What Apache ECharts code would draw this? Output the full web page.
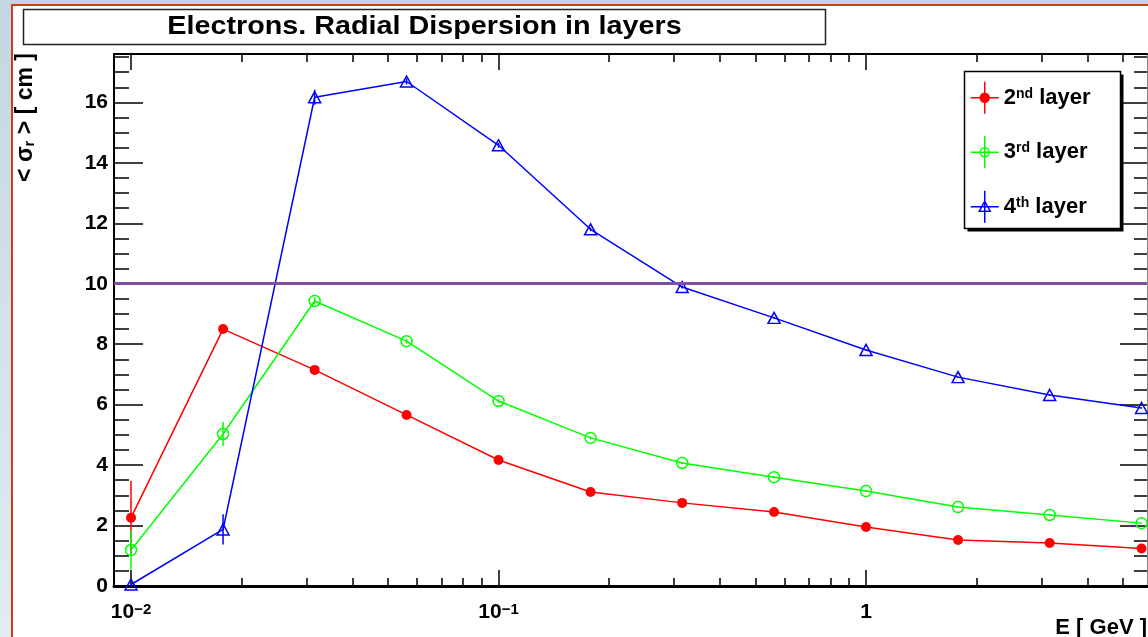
<!DOCTYPE html>
<html>
<head>
<meta charset="utf-8">
<script src="https://cdn.jsdelivr.net/npm/echarts@6/dist/echarts.min.js"></script>
<style>
  html, body { margin: 0; padding: 0; }
  #main { width: 1148px; height: 637px; }
</style>
</head>
<body>
<div id="main"></div>
<script>
// energies in GeV, quarter-decade steps
const energies = [0.01, 0.0178, 0.0316, 0.0562, 0.1, 0.178, 0.316, 0.562, 1.0, 1.78, 3.16, 5.62];
const layer2 = [2.26, 8.5, 7.15, 5.66, 4.17, 3.11, 2.75, 2.45, 1.95, 1.52, 1.42, 1.24];
const layer3 = [1.19, 5.03, 9.43, 8.1, 6.12, 4.9, 4.07, 3.6, 3.14, 2.61, 2.35, 2.08];
const layer4 = [0.05, 1.87, 16.17, 16.69, 14.58, 11.8, 9.89, 8.87, 7.81, 6.91, 6.32, 5.89];
const err2 = [1.22, 0.1, 0.08, 0.06, 0.05, 0.04, 0.03, 0.03, 0.02, 0.02, 0.02, 0.02];
const err3 = [0.65, 0.4, 0.12, 0.08, 0.06, 0.05, 0.04, 0.03, 0.03, 0.02, 0.02, 0.02];
const err4 = [0.05, 0.5, 0.25, 0.1, 0.08, 0.06, 0.05, 0.04, 0.03, 0.03, 0.02, 0.02];
const seriesNames = ["2nd layer", "3rd layer", "4th layer"];
const legendLabels = ["2{sup|nd} layer", "3{sup|rd} layer", "4{sup|th} layer"];
const refLevel = 10;

// axis ranges and tick marks
const xMin = 0.008988;
const xMax = 5.815;
const yMax = 17.6;
const majorX = [0.01, 0.1, 1];
const minorX = [0.02, 0.03, 0.04, 0.05, 0.06, 0.07, 0.08, 0.09,
  0.2, 0.3, 0.4, 0.5, 0.6, 0.7, 0.8, 0.9, 2, 3, 4, 5];

const FONT = '"Liberation Sans", Arial, Helvetica, sans-serif';
const RED = "#ff0000";
const GREEN = "#00ff00";
const BLUE = "#0000ff";

const chart = echarts.init(document.getElementById("main"));

const lg = (v) => Math.log10(v);

const tickAxis = (position, values, length, extra) => ({
  type: "value",
  position: position,
  min: lg(xMin),
  max: lg(xMax),
  axisLine: { show: false, onZero: false },
  axisTick: { show: true, inside: true, length: length, customValues: values.map(lg),
    lineStyle: { color: "#000", width: 1.5 } },
  axisLabel: { show: false },
  splitLine: { show: false },
  ...extra,
});

const yTickAxis = (position, interval, length, extra) => ({
  type: "value",
  position: position,
  min: 0,
  max: yMax,
  interval: interval,
  axisLine: { show: false, onZero: false },
  axisTick: { show: true, inside: true, length: length, lineStyle: { color: "#000", width: 1.5 } },
  axisLabel: { show: false },
  splitLine: { show: false },
  ...extra,
});

const errorSeries = (values, errors, color) => ({
  type: "custom",
  xAxisIndex: 0,
  yAxisIndex: 0,
  z: 2,
  silent: true,
  data: energies.map((e, i) => [e, values[i], errors[i]]),
  renderItem: (params, api) => {
    const x = api.value(0);
    const y = api.value(1);
    const e = api.value(2);
    const p1 = api.coord([x, y - e]);
    const p2 = api.coord([x, y + e]);
    return {
      type: "line",
      shape: { x1: p1[0], y1: p1[1], x2: p2[0], y2: p2[1] },
      style: { stroke: color, lineWidth: 1.5 },
    };
  },
});

const markerPath = {
  circle: "path://M0 16 L28 16 M14 0 L14 32 M18.5 16 A4.5 4.5 0 1 1 9.5 16 A4.5 4.5 0 1 1 18.5 16 Z",
  triangle: "path://M0 16 L28 16 M14 0 L14 32 M14 10.5 L19.5 20.5 L8.5 20.5 Z",
};

const options = {
  animation: false,
  grid: { left: 114, top: 54, right: 1, bottom: 51 },
  graphic: [
    {
      type: "rect", z: -200, silent: true,
      shape: { x: 0, y: 0, width: 1148, height: 637 },
      style: { fill: new echarts.graphic.LinearGradient(0, 0, 0, 1, [
        { offset: 0, color: "#c2d7e2" }, { offset: 1, color: "#e2ebf1" }]) },
    },
    {
      type: "rect", z: -100, silent: true,
      shape: { x: 12, y: 5, width: 1200, height: 700 },
      style: { fill: "#ffffff", stroke: "#d2391d", lineWidth: 2 },
    },
    {
      type: "rect", silent: true,
      shape: { x: 23.5, y: 9.5, width: 802, height: 35 },
      style: { fill: "#ffffff", stroke: "#222", lineWidth: 1.5 },
    },
    {
      type: "text", x: 424.5, y: 27.5, scaleX: 1.15, silent: true,
      style: { text: "Electrons. Radial Dispersion in layers", font: "bold 25px " + FONT,
        fill: "#000", align: "center", verticalAlign: "middle",
        textAlign: "center", textVerticalAlign: "middle" },
    },
    {
      type: "text", x: 26, y: 53, rotation: Math.PI / 2, silent: true,
      style: {
        text: "{b|< σ}{s|r}{b| > [ cm ]}",
        rich: {
          b: { font: "bold 23px " + FONT, fill: "#000" },
          s: { font: "bold 15px " + FONT, fill: "#000", verticalAlign: "bottom" },
        },
        align: "right", verticalAlign: "middle",
        textAlign: "right", textVerticalAlign: "middle",
      },
    },
    {
      type: "text", x: 1147, y: 628, silent: true,
      style: { text: "E [ GeV ]", font: "bold 22px " + FONT, fill: "#000",
        align: "right", verticalAlign: "middle",
        textAlign: "right", textVerticalAlign: "middle" },
    },
    // legend frame with its drop shadow
    {
      type: "rect", z: 5, silent: true,
      shape: { x: 967.5, y: 74.5, width: 156, height: 157 },
      style: { fill: "#000" },
    },
    {
      type: "rect", z: 5, silent: true,
      shape: { x: 964.5, y: 71.5, width: 156, height: 157 },
      style: { fill: "#ffffff", stroke: "#000", lineWidth: 1.5 },
    },
  ],
  legend: {
    z: 10,
    left: 964,
    top: 71,
    orient: "vertical",
    itemWidth: 28,
    itemHeight: 32,
    itemGap: 21,
    itemTextGap: 5,
    padding: [10, 24, 8, 6],
    formatter: (name) => legendLabels[seriesNames.indexOf(name)],
    textStyle: {
      fontFamily: FONT, fontSize: 22, fontWeight: "bold", color: "#000",
      rich: { sup: { fontFamily: FONT, fontSize: 14, fontWeight: "bold", verticalAlign: "top" } },
    },
    data: [
      { name: seriesNames[0], icon: markerPath.circle,
        itemStyle: { color: RED, borderColor: RED, borderWidth: 1.5 } },
      { name: seriesNames[1], icon: markerPath.circle,
        itemStyle: { color: "rgba(0,0,0,0)", borderColor: GREEN, borderWidth: 1.5 } },
      { name: seriesNames[2], icon: markerPath.triangle,
        itemStyle: { color: "rgba(0,0,0,0)", borderColor: BLUE, borderWidth: 1.5 } },
    ],
  },
  xAxis: [
    { type: "log", logBase: 10, min: xMin, max: xMax, show: false },
    tickAxis("bottom", majorX, 16, {
      axisLine: { show: true, onZero: false, lineStyle: { color: "#000", width: 3 } },
      axisLabel: {
        show: true,
        customValues: majorX.map(lg),
        margin: 16,
        color: "#000",
        fontFamily: FONT,
        fontSize: 21,
        fontWeight: "bold",
        formatter: (v) => {
          const p = Math.round(v);
          return p === 0 ? "1" : "10{sup|\u2212" + -p + "}";
        },
        rich: { sup: { fontFamily: FONT, fontSize: 15, fontWeight: "bold", verticalAlign: "top" } },
      },
    }),
    tickAxis("bottom", minorX, 8),
    tickAxis("top", majorX, 16, {
      axisLine: { show: true, onZero: false, lineStyle: { color: "#000", width: 2 } },
    }),
    tickAxis("top", minorX, 8),
  ],
  yAxis: [
    yTickAxis("left", 2, 29, {
      axisLine: { show: true, onZero: false, lineStyle: { color: "#000", width: 2 } },
      axisLabel: {
        show: true, margin: 6, color: "#000", fontFamily: FONT, fontSize: 21, fontWeight: "bold",
        showMaxLabel: false,
      },
    }),
    yTickAxis("left", 0.5, 15),
    yTickAxis("right", 2, 27, {
      axisLine: { show: true, onZero: false, lineStyle: { color: "#888", width: 1 } },
    }),
    yTickAxis("right", 0.5, 13),
  ],
  series: [
    errorSeries(layer2, err2, RED),
    errorSeries(layer3, err3, GREEN),
    errorSeries(layer4, err4, BLUE),
    {
      name: seriesNames[0], type: "line", xAxisIndex: 0, yAxisIndex: 0, z: 3,
      data: energies.map((e, i) => [e, layer2[i]]),
      symbol: "circle", symbolSize: 10,
      itemStyle: { color: RED },
      lineStyle: { color: RED, width: 1.5 },
    },
    {
      name: seriesNames[1], type: "line", xAxisIndex: 0, yAxisIndex: 0, z: 3,
      data: energies.map((e, i) => [e, layer3[i]]),
      symbol: "circle", symbolSize: 11,
      itemStyle: { color: "rgba(0,0,0,0)", borderColor: GREEN, borderWidth: 1.5 },
      lineStyle: { color: GREEN, width: 1.5 },
    },
    {
      name: seriesNames[2], type: "line", xAxisIndex: 0, yAxisIndex: 0, z: 3,
      data: energies.map((e, i) => [e, layer4[i]]),
      symbol: "triangle", symbolSize: [12, 11],
      itemStyle: { color: "rgba(0,0,0,0)", borderColor: BLUE, borderWidth: 1.5 },
      lineStyle: { color: BLUE, width: 1.5 },
      markLine: {
        silent: true,
        symbol: ["none", "none"],
        label: { show: false },
        lineStyle: { color: "#7d4fa0", width: 3, type: "solid" },
        data: [{ yAxis: refLevel }],
      },
    },
  ],
};

chart.setOption(options);
</script>
</body>
</html>
